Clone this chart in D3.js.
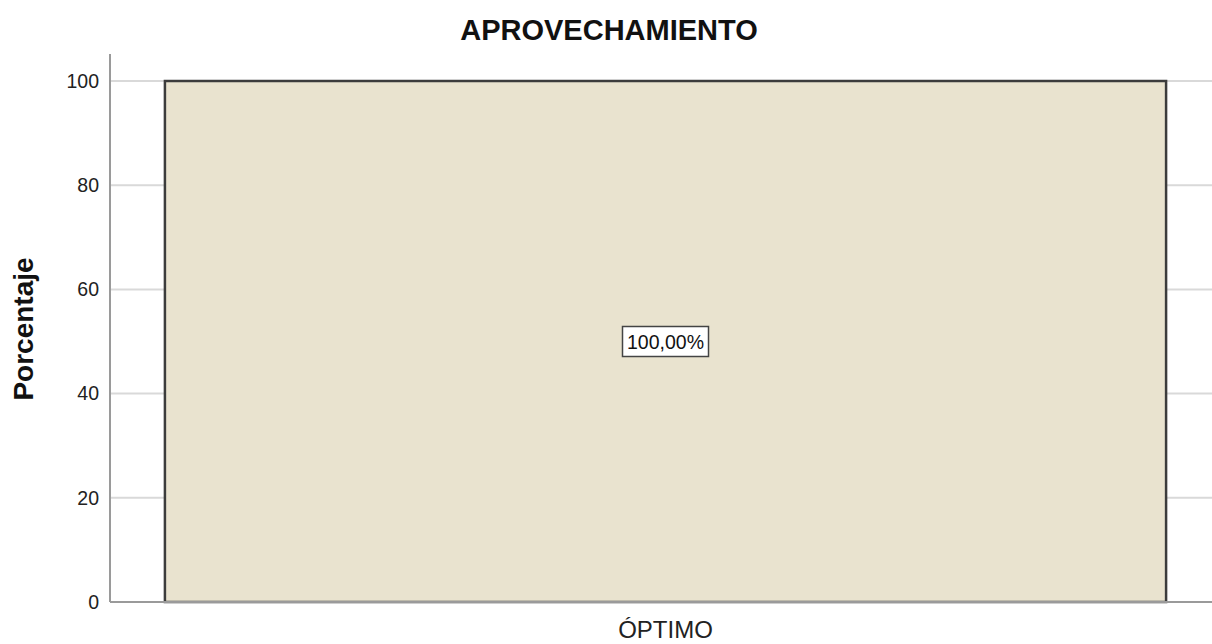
<!DOCTYPE html>
<html>
<head>
<meta charset="utf-8">
<script src="https://cdn.jsdelivr.net/npm/d3@7"></script>
<style>
  body { margin: 0; background: #fff; }
  svg { display: block; font-family: "Liberation Sans", Arial, sans-serif; }
</style>
</head>
<body>
<svg id="svg"></svg>
<script>
// data
const categories = ['ÓPTIMO']
const percentages = [100]
const barLabels = ['100,00%']
const yTicks = [0, 20, 40, 60, 80, 100]

const width = 1212
const height = 644
const margin = {top: 81, right: 0, bottom: 42, left: 110}

const svg = d3.select('#svg')
  .attr('width', width)
  .attr('height', height)
  .attr('viewBox', [0, 0, width, height])

const x = d3.scaleBand()
  .domain(categories)
  .range([margin.left, 1221])
  .padding(0.052)

const y = d3.scaleLinear()
  .domain([0, 100])
  .range([height - margin.bottom, margin.top])

// gridlines
svg.append('g')
  .selectAll('line')
  .data(yTicks.filter(d => d > 0))
  .join('line')
    .attr('x1', margin.left)
    .attr('x2', width)
    .attr('y1', d => y(d))
    .attr('y2', d => y(d))
    .attr('stroke', '#d9d9d9')
    .attr('stroke-width', 2)

// bars
svg.append('g')
  .selectAll('rect')
  .data(percentages)
  .join('rect')
    .attr('x', (d, i) => x(categories[i]))
    .attr('y', d => y(d))
    .attr('width', x.bandwidth())
    .attr('height', d => y(0) - y(d))
    .attr('fill', '#e9e3cf')
    .attr('stroke', '#3c3c3c')
    .attr('stroke-width', 2.5)

// y axis
const yAxis = svg.append('g')
  .attr('transform', `translate(${margin.left},0)`)
  .call(d3.axisLeft(y).tickValues(yTicks).tickSize(0).tickPadding(11))
yAxis.select('.domain').remove()
yAxis.selectAll('text')
  .attr('font-size', 19.5)
  .attr('fill', '#222')
  .attr('font-family', '"Liberation Sans", Arial, sans-serif')
svg.append('line')
  .attr('x1', margin.left).attr('x2', margin.left)
  .attr('y1', 54).attr('y2', y(0))
  .attr('stroke', '#9a9a9a').attr('stroke-width', 2)

// x axis
svg.append('line')
  .attr('x1', margin.left).attr('x2', width)
  .attr('y1', y(0)).attr('y2', y(0))
  .attr('stroke', '#9a9a9a').attr('stroke-width', 2)
svg.append('g')
  .selectAll('text')
  .data(categories)
  .join('text')
    .attr('x', d => x(d) + x.bandwidth() / 2)
    .attr('y', 638)
    .attr('text-anchor', 'middle')
    .attr('font-size', 24)
    .attr('fill', '#222')
    .text(d => d)

// value labels
const labels = svg.append('g')
  .selectAll('g')
  .data(percentages)
  .join('g')
    .attr('transform', (d, i) => `translate(${x(categories[i]) + x.bandwidth() / 2},${y(d / 2)})`)
labels.append('rect')
  .attr('x', -43).attr('y', -15)
  .attr('width', 86).attr('height', 30)
  .attr('fill', '#fff')
  .attr('stroke', '#444')
  .attr('stroke-width', 1.5)
labels.append('text')
  .attr('text-anchor', 'middle')
  .attr('dy', '0.36em')
  .attr('font-size', 19.5)
  .attr('fill', '#111')
  .text((d, i) => barLabels[i])

// title
svg.append('text')
  .attr('x', 609)
  .attr('y', 40)
  .attr('text-anchor', 'middle')
  .attr('font-weight', 'bold')
  .attr('font-size', 29)
  .attr('fill', '#111')
  .text('APROVECHAMIENTO')

// y axis title
svg.append('text')
  .attr('transform', 'translate(33,329) rotate(-90)')
  .attr('text-anchor', 'middle')
  .attr('font-weight', 'bold')
  .attr('font-size', 28)
  .attr('fill', '#111')
  .text('Porcentaje')
</script>
</body>
</html>
